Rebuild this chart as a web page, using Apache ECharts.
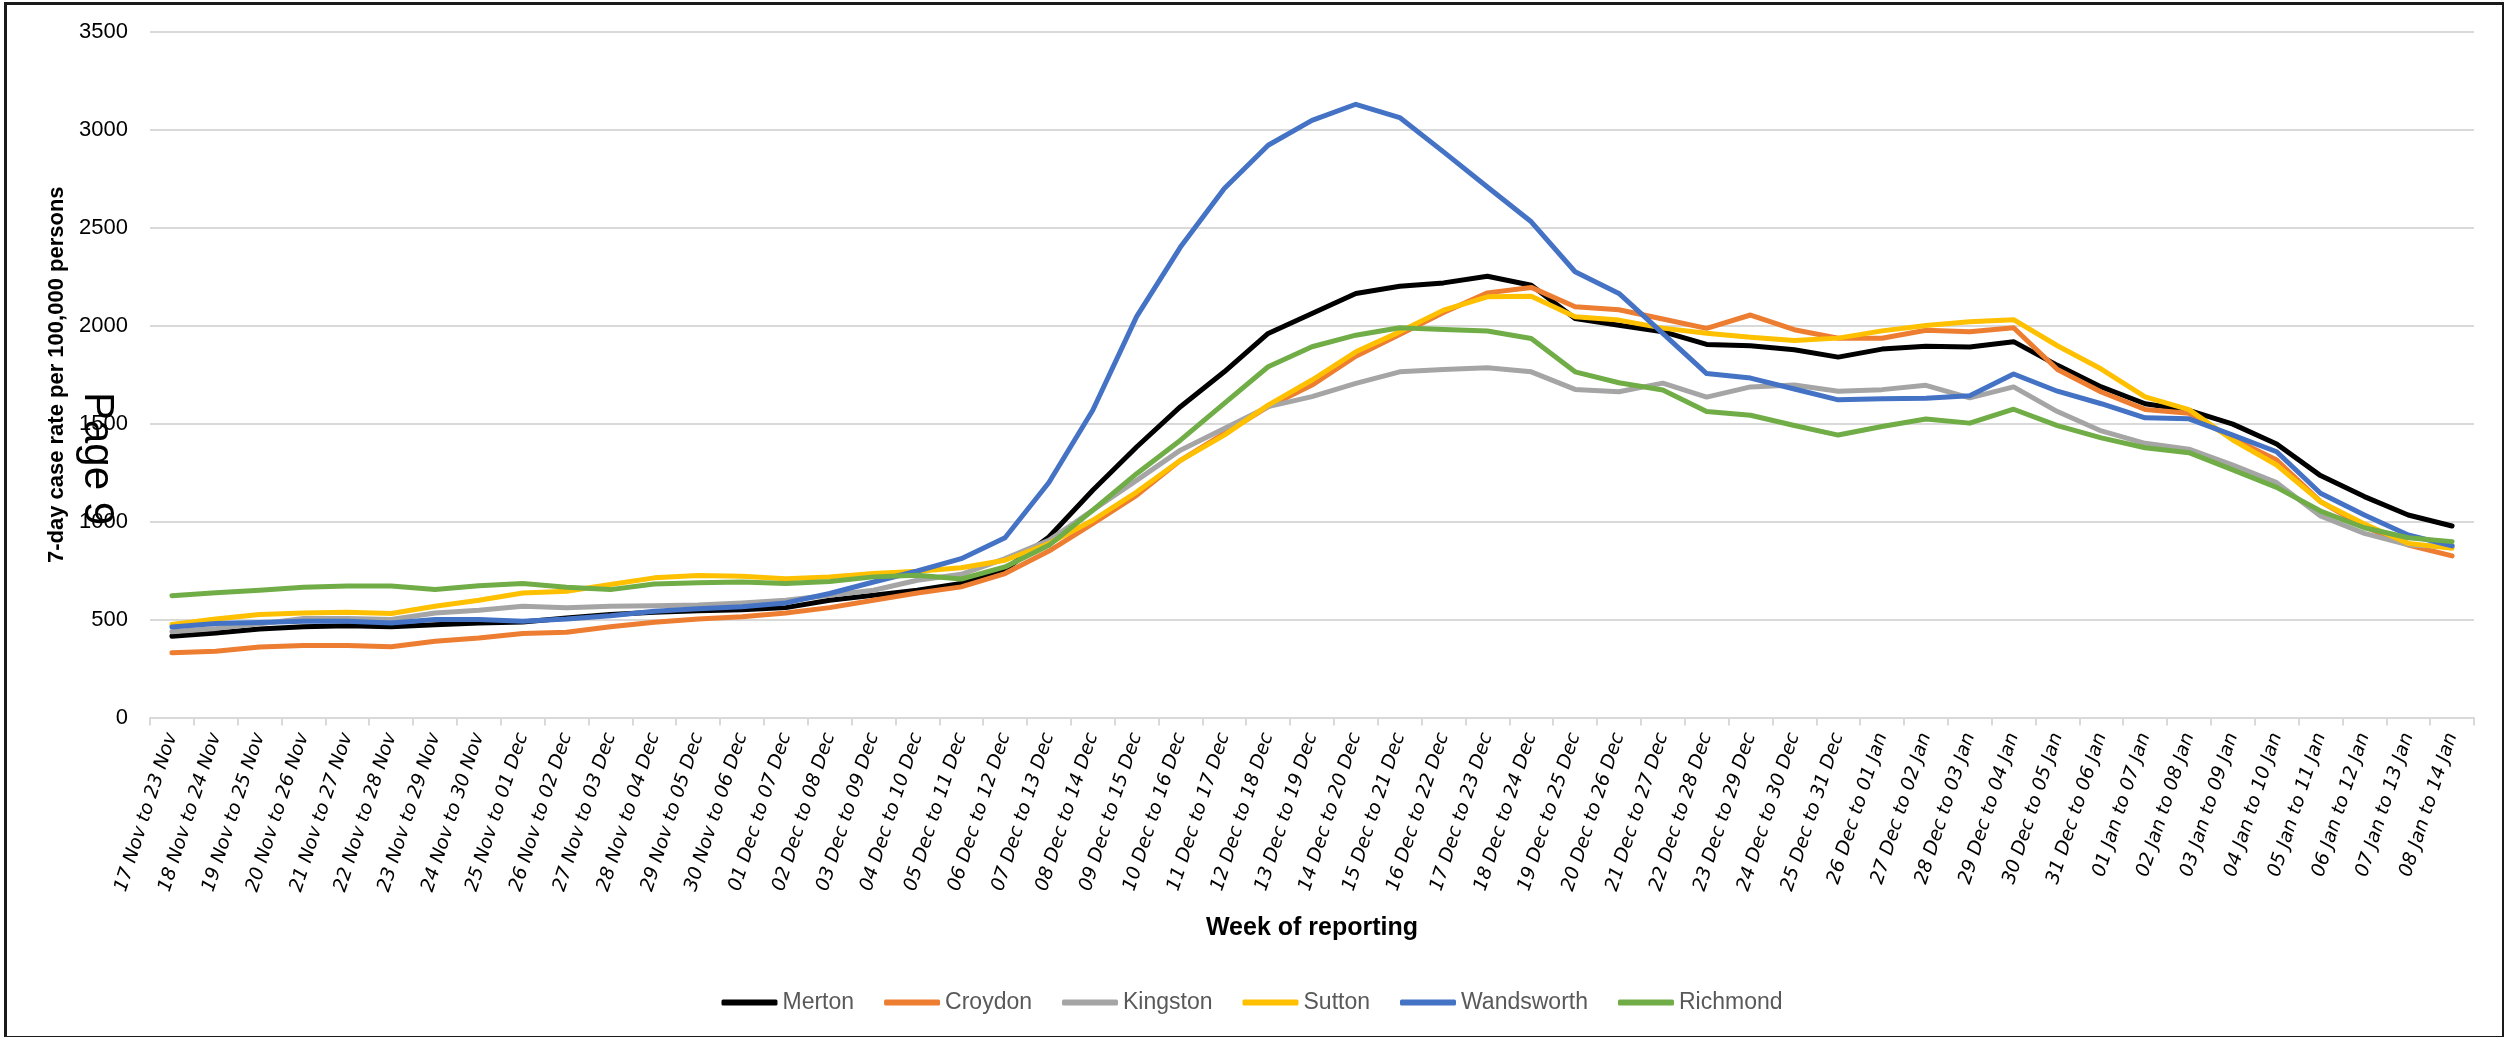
<!DOCTYPE html>
<html>
<head>
<meta charset="utf-8">
<script src="https://cdn.jsdelivr.net/npm/echarts@6/dist/echarts.min.js"></script>
<style>
  html, body { margin: 0; padding: 0; background: #ffffff; }
  #chart { width: 2504px; height: 1037px; }
</style>
</head>
<body>
<div id="chart"></div>
<script>
const categories = [
  "17 Nov to 23 Nov","18 Nov to 24 Nov","19 Nov to 25 Nov","20 Nov to 26 Nov","21 Nov to 27 Nov",
  "22 Nov to 28 Nov","23 Nov to 29 Nov","24 Nov to 30 Nov","25 Nov to 01 Dec","26 Nov to 02 Dec",
  "27 Nov to 03 Dec","28 Nov to 04 Dec","29 Nov to 05 Dec","30 Nov to 06 Dec","01 Dec to 07 Dec",
  "02 Dec to 08 Dec","03 Dec to 09 Dec","04 Dec to 10 Dec","05 Dec to 11 Dec","06 Dec to 12 Dec",
  "07 Dec to 13 Dec","08 Dec to 14 Dec","09 Dec to 15 Dec","10 Dec to 16 Dec","11 Dec to 17 Dec",
  "12 Dec to 18 Dec","13 Dec to 19 Dec","14 Dec to 20 Dec","15 Dec to 21 Dec","16 Dec to 22 Dec",
  "17 Dec to 23 Dec","18 Dec to 24 Dec","19 Dec to 25 Dec","20 Dec to 26 Dec","21 Dec to 27 Dec",
  "22 Dec to 28 Dec","23 Dec to 29 Dec","24 Dec to 30 Dec","25 Dec to 31 Dec","26 Dec to 01 Jan",
  "27 Dec to 02 Jan","28 Dec to 03 Jan","29 Dec to 04 Jan","30 Dec to 05 Jan","31 Dec to 06 Jan",
  "01 Jan to 07 Jan","02 Jan to 08 Jan","03 Jan to 09 Jan","04 Jan to 10 Jan","05 Jan to 11 Jan",
  "06 Jan to 12 Jan","07 Jan to 13 Jan","08 Jan to 14 Jan"
];

const merton = [415,432,452,463,469,463,474,483,488,508,526,537,545,550,561,599,624,650,684,755,
  922,1160,1381,1587,1765,1961,2063,2165,2202,2219,2253,2207,2037,2003,1970,1905,1898,1878,1840,1881,
  1895,1892,1919,1798,1688,1602,1568,1498,1396,1235,1128,1034,978];

const croydon = [330,338,360,367,367,361,389,406,429,435,463,486,503,514,534,561,599,636,667,735,
  850,990,1134,1313,1450,1587,1697,1845,1955,2068,2168,2196,2097,2082,2035,1987,2055,1980,1936,1936,
  1977,1970,1990,1777,1662,1573,1553,1425,1315,1102,974,881,825];

const kingston = [438,455,478,505,505,500,534,548,568,560,568,571,575,585,599,624,650,701,731,811,
  905,1058,1211,1365,1475,1587,1638,1706,1765,1777,1786,1765,1675,1663,1707,1636,1688,1698,1666,1674,
  1696,1632,1688,1562,1463,1400,1370,1289,1199,1029,940,881,872];

const sutton = [475,503,526,534,537,531,568,599,636,645,679,713,725,721,709,718,735,747,765,803,
  888,1007,1151,1313,1442,1595,1723,1867,1969,2080,2148,2151,2046,2029,1988,1962,1942,1925,1937,1974,
  2001,2021,2031,1898,1779,1637,1572,1417,1289,1102,988,889,864];

const wandsworth = [462,480,485,491,491,483,500,500,491,503,520,543,555,565,585,633,692,748,811,918,
  1200,1569,2047,2402,2701,2922,3049,3131,3063,2888,2709,2531,2276,2165,1961,1756,1733,1677,1622,1628,
  1630,1643,1754,1666,1602,1530,1525,1442,1357,1145,1034,932,876];

const richmond = [622,637,650,665,672,672,653,673,684,665,653,682,688,692,684,694,718,726,707,769,
  879,1058,1245,1416,1604,1791,1893,1952,1990,1981,1973,1935,1765,1709,1672,1562,1543,1491,1442,1486,
  1524,1503,1574,1490,1428,1377,1352,1264,1175,1054,969,918,898];

const seriesNames = ["Merton","Croydon","Kingston","Sutton","Wandsworth","Richmond"];
const seriesData = [merton, croydon, kingston, sutton, wandsworth, richmond];
const seriesColors = ["#000000","#ED7D31","#A5A5A5","#FFC000","#4472C4","#70AD47"];

const yTitle = "7-day case rate per 100,000 persons";
const xTitle = "Week of reporting";
const overlayText = "Page 9";

const chart = echarts.init(document.getElementById('chart'), null, { renderer: 'canvas' });

const option = {
  animation: false,
  backgroundColor: '#ffffff',
  grid: { left: 150, right: 30, top: 32, bottom: 319.5, containLabel: false },
  legend: {
    data: seriesNames,
    left: 'center',
    top: 986,
    icon: 'roundRect',
    itemWidth: 56,
    itemHeight: 6,
    itemGap: 30,
    textStyle: { fontFamily: 'Liberation Sans', fontSize: 23, color: '#595959' }
  },
  xAxis: {
    type: 'category',
    data: categories,
    boundaryGap: true,
    name: xTitle,
    nameLocation: 'middle',
    nameGap: 198,
    nameTextStyle: { fontFamily: 'Liberation Sans', fontWeight: 'bold', fontSize: 25, color: '#000000' },
    axisLine: { lineStyle: { color: '#D9D9D9', width: 2 } },
    axisTick: { show: true, length: 8, lineStyle: { color: '#D9D9D9', width: 2 } },
    axisLabel: {
      interval: 0,
      rotate: 72,
      margin: 16,
      fontFamily: 'DejaVu Sans',
      fontStyle: 'italic',
      fontSize: 19,
      color: '#000000'
    },
    splitLine: { show: false }
  },
  yAxis: {
    type: 'value',
    min: 0,
    max: 3500,
    interval: 500,
    name: yTitle,
    nameLocation: 'middle',
    nameGap: 82,
    nameRotate: 90,
    nameTextStyle: { fontFamily: 'Liberation Sans', fontWeight: 'bold', fontSize: 22, color: '#000000' },
    axisLine: { show: false },
    axisTick: { show: false },
    axisLabel: {
      margin: 22,
      fontFamily: 'Liberation Sans',
      fontSize: 22,
      color: '#000000',
      formatter: (v) => String(v)
    },
    splitLine: { lineStyle: { color: '#D9D9D9', width: 2 } }
  },
  series: seriesNames.map((n, k) => ({
    name: n,
    type: 'line',
    data: seriesData[k],
    symbol: 'none',
    showSymbol: false,
    smooth: false,
    color: seriesColors[k],
    lineStyle: { color: seriesColors[k], width: 5, join: 'round', cap: 'round' }
  })),
  graphic: [
    {
      type: 'rect',
      left: 3, top: 1,
      shape: { x: 0, y: 0, width: 2498, height: 1034 },
      style: { fill: 'none', stroke: '#1a1a1a', lineWidth: 3 },
      silent: true,
      z: 100
    },
    {
      type: 'text',
      x: 76, y: 392,
      rotation: -Math.PI / 2,
      style: { text: overlayText, fontFamily: 'Liberation Sans', fontSize: 42, fill: '#000000', textAlign: 'left', textVerticalAlign: 'bottom' },
      silent: true,
      z: 100
    }
  ]
};

chart.setOption(option);
</script>
</body>
</html>
